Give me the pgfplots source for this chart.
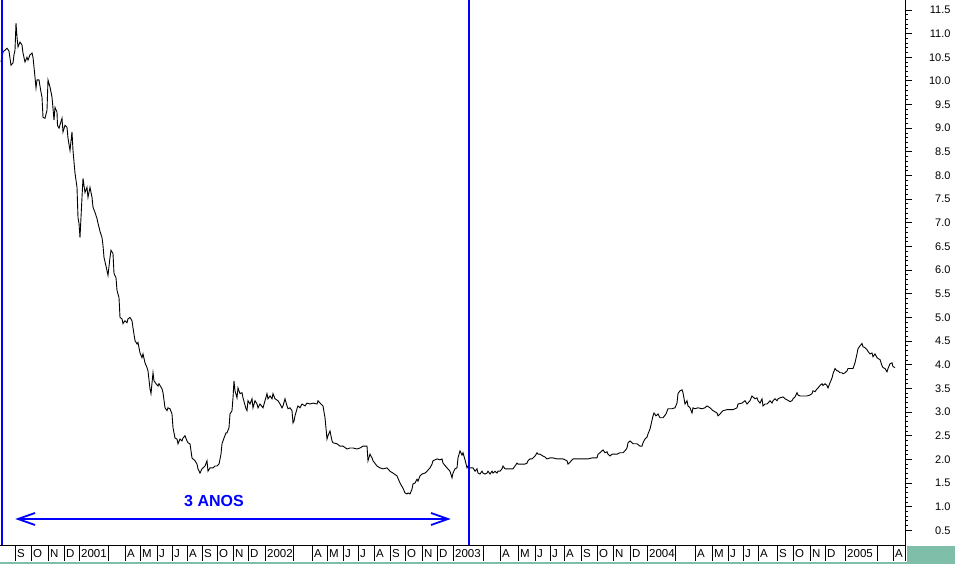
\documentclass[border=0pt]{standalone}
\usepackage{pgfplots}
\pgfplotsset{compat=1.18}
\usepackage{fontspec}
\setmainfont{Liberation Sans}
\definecolor{tealbox}{RGB}{127,191,169}
\begin{document}
\begin{tikzpicture}
\path[use as bounding box] (0pt,0pt) rectangle (955pt,564pt);
\fill[tealbox] (907pt,0pt) rectangle (955pt,18pt);
\fill[tealbox] (0pt,0pt) rectangle (955pt,2pt);
\begin{axis}[
  at={(0pt,19pt)}, anchor=south west,
  width=905pt, height=545pt, scale only axis,
  xmin=0, xmax=905, ymin=0.19, ymax=11.71,
  clip=false,
  axis x line*=bottom, axis y line*=right,
  axis line style={-, black, line width=0.9pt},
  ytick={0.5,1.0,1.5,2.0,2.5,3.0,3.5,4.0,4.5,5.0,5.5,6.0,6.5,7.0,7.5,8.0,8.5,9.0,9.5,10.0,10.5,11.0,11.5},
  minor y tick num=4,
  tick align=outside,
  major tick length=7pt, minor tick length=3pt,
  tick style={black, line width=0.8pt},
  yticklabel style={/pgf/number format/fixed, /pgf/number format/fixed zerofill,
    /pgf/number format/precision=1, /pgf/number format/assume math mode=true,
    font=\fontsize{11}{13}\selectfont, anchor=east, xshift=42pt},
  xtick={15,31,48,64,79,125,140,157,172,187,202,217,233,248,265,312,327,343,358,374,390,405,422,437,453,500,518,535,550,564,581,597,613,630,647,695,712,728,743,758,777,793,810,825,845,893},
  xticklabels={S,O,N,D,2001,A,M,J,J,A,S,O,N,D,2002,A,M,J,J,A,S,O,N,D,2003,A,M,J,J,A,S,O,N,D,2004,A,M,J,J,A,S,O,N,D,2005,A},
  xticklabel style={font=\fontsize{11.5}{13}\selectfont, anchor=west, yshift=-2pt, xshift=0.5pt, inner sep=1.5pt},
]
\addplot[black, line width=0.9pt, sharp plot, no markers] coordinates {
(1,10.40)(3,10.61)(7,10.69)(9,10.63)(11,10.33)(13,10.38)(14,10.55)(15,10.65)(16,11.22)(17,10.93)
(18,10.72)(20,10.82)(22,10.76)(23,10.59)(25,10.40)(27,10.50)(28,10.44)(30,10.55)(32,10.59)(33,10.50)
(35,10.08)(36,9.85)(37,10.02)(39,10.02)(41,9.76)(42,9.66)(43,9.23)(45,9.21)(47,9.38)(48,10.02)
(50,9.87)(52,9.66)(53,9.42)(54,9.17)(55,9.44)(57,9.34)(57.5,9.06)(59,9.00)(62,9.21)(63,8.92)
(65,9.06)(67,9.02)(68,8.79)(70,8.53)(72,8.92)(73,8.53)(75,8.05)(77,7.75)(78,7.11)(79,6.99)
(80,6.69)(82,7.54)(83,7.94)(85,7.64)(87,7.75)(88,7.54)(90,7.75)(92,7.54)(93,7.33)(95,7.22)
(97,7.09)(98,6.99)(100,6.82)(102,6.69)(103,6.52)(104,6.27)(107,5.99)(108,5.89)(110,6.27)(111,6.42)
(113,6.35)(114,5.93)(116,5.84)(117,5.57)(119,5.42)(120,5.00)(122,4.97)(123,4.87)(125,4.93)(127,4.89)
(128,4.97)(130,5.00)(132,4.93)(133,4.78)(135,4.51)(137,4.44)(138,4.47)(140,4.25)(142,4.15)(143,4.23)
(145,4.04)(147,3.94)(148,3.87)(150,3.49)(151,3.39)(153,3.83)(154,3.66)(156,3.60)(158,3.55)(159,3.60)
(162,3.49)(163,3.41)(165,3.09)(167,3.03)(168,3.09)(170,3.07)(172,2.96)(173,2.67)(175,2.45)(177,2.43)
(178,2.33)(180,2.43)(182,2.39)(183,2.45)(185,2.50)(187,2.39)(188,2.35)(190,2.33)(192,2.03)(193,2.01)
(195,1.97)(197,1.90)(198,1.80)(200,1.71)(202,1.80)(203,1.82)(205,1.86)(207,1.97)(208,1.75)(210,1.82)
(213,1.82)(215,1.86)(217,1.86)(219,1.90)(221,2.11)(222,2.33)(224,2.45)(226,2.56)(227,2.56)(229,2.67)
(230,2.96)(232,3.03)(233,3.30)(234,3.66)(235,3.45)(237,3.30)(238,3.51)(240,3.39)(242,3.41)(243,3.30)
(246,3.07)(247,3.03)(248,3.24)(250,3.17)(252,3.28)(253,3.09)(255,3.24)(257,3.17)(258,3.09)(260,3.17)
(263,3.09)(265,3.24)(267,3.39)(268,3.28)(270,3.34)(272,3.28)(273,3.39)(275,3.28)(278,3.24)(280,3.17)
(282,3.09)(283,3.13)(285,3.28)(287,3.13)(288,3.07)(290,3.09)(292,3.03)(293,2.77)(294,2.81)(295,2.92)
(297,3.07)(298,3.13)(300,3.09)(302,3.17)(305,3.13)(307,3.19)(310,3.17)(313,3.19)(317,3.17)(318,3.24)
(320,3.19)(323,3.13)(325,2.88)(327,2.43)(328,2.50)(330,2.60)(332,2.39)(333,2.35)(337,2.33)(340,2.28)
(343,2.28)(347,2.22)(350,2.24)(353,2.24)(357,2.22)(360,2.24)(363,2.28)(367,2.28)(368,1.97)(370,2.11)
(372,2.03)(373,1.97)(377,1.86)(380,1.82)(383,1.80)(387,1.82)(390,1.75)(393,1.71)(397,1.65)(400,1.50)
(403,1.39)(405,1.29)(407,1.27)(408,1.29)(410,1.27)(412,1.37)(413,1.48)(415,1.50)(417,1.58)(418,1.54)
(420,1.65)(422,1.69)(425,1.71)(427,1.75)(430,1.82)(432,1.90)(433,1.97)(437,2.01)(440,1.99)(442,2.01)
(443,1.92)(447,1.82)(450,1.75)(452,1.61)(453,1.71)(455,1.80)(457,1.82)(458,2.03)(460,2.18)(462,2.09)
(463,2.14)(465,1.99)(467,1.82)(468,1.86)(470,1.82)(473,1.82)(475,1.75)(477,1.80)(478,1.71)(480,1.69)
(482,1.75)(483,1.71)(485,1.69)(487,1.71)(488,1.75)(490,1.69)(492,1.75)(493,1.71)(495,1.75)(497,1.71)
(498,1.75)(500,1.75)(502,1.80)(503,1.86)(505,1.80)(510,1.80)(513,1.80)(515,1.86)(517,1.92)(518,1.90)
(522,1.90)(525,1.90)(527,1.92)(528,1.97)(530,2.01)(532,2.01)(533,2.03)(535,2.07)(537,2.14)(538,2.11)
(540,2.11)(543,2.07)(545,2.05)(547,2.01)(550,2.03)(553,2.03)(557,2.01)(560,2.01)(563,2.01)(567,1.97)
(568,1.90)(570,1.94)(573,2.01)(577,2.01)(580,2.01)(583,2.01)(588,2.01)(592,2.03)(595,2.03)(597,2.03)
(598,2.11)(600,2.14)(602,2.18)(603,2.20)(605,2.14)(607,2.16)(608,2.11)(610,2.07)(612,2.11)(615,2.11)
(617,2.11)(620,2.14)(623,2.14)(625,2.18)(627,2.24)(628,2.35)(630,2.39)(632,2.35)(633,2.33)(637,2.33)
(640,2.28)(642,2.28)(643,2.35)(645,2.43)(647,2.47)(648,2.54)(650,2.64)(653,2.92)(654,2.98)(656,2.92)
(658,2.96)(660,2.88)(663,2.88)(666,2.96)(668,3.07)(672,3.07)(675,3.09)(677,3.19)(678,3.39)(680,3.45)
(682,3.47)(683,3.41)(685,3.17)(687,3.24)(688,3.13)(690,3.09)(692,2.98)(693,3.09)(695,3.07)(698,3.09)
(702,3.07)(705,3.09)(707,3.13)(710,3.09)(713,3.03)(717,2.98)(718,2.92)(720,2.96)(723,3.03)(727,3.05)
(730,3.05)(733,3.05)(737,3.09)(738,3.17)(742,3.19)(745,3.24)(747,3.17)(750,3.24)(752,3.34)(753,3.32)
(755,3.28)(757,3.30)(758,3.24)(760,3.19)(762,3.28)(763,3.13)(765,3.17)(767,3.17)(768,3.19)(770,3.24)
(772,3.19)(773,3.24)(775,3.28)(777,3.24)(778,3.28)(780,3.30)(783,3.32)(785,3.28)(787,3.26)(790,3.22)
(792,3.24)(793,3.28)(795,3.32)(797,3.41)(798,3.36)(800,3.34)(803,3.34)(807,3.34)(810,3.36)(812,3.39)
(813,3.45)(815,3.43)(817,3.49)(818,3.51)(820,3.56)(822,3.60)(823,3.56)(825,3.60)(827,3.56)(828,3.51)
(830,3.62)(832,3.72)(833,3.81)(835,3.92)(837,3.87)(838,3.87)(840,3.83)(842,3.83)(843,3.81)(845,3.83)
(847,3.87)(848,3.92)(853,3.92)(855,4.04)(857,4.23)(858,4.34)(860,4.40)(862,4.45)(863,4.38)(865,4.36)
(867,4.32)(868,4.28)(870,4.23)(872,4.25)(873,4.17)(875,4.23)(877,4.15)(878,4.13)(880,4.11)(882,3.98)
(883,3.94)(885,3.92)(887,3.85)(888,3.92)(890,4.02)(892,4.04)(893,3.96)(895,3.94)
};
\end{axis}
% month separators
\foreach \p in {15,31,48,64,79,108,125,140,157,172,187,202,217,233,248,265,293,312,327,343,358,374,390,405,422,437,453,483,500,518,535,550,564,581,597,613,630,647,675,695,712,728,743,758,777,793,810,825,845,877,893,905}
  \draw[black, line width=0.8pt] (\p pt,19pt) -- (\p pt,3pt);
% blue markers
\draw[blue, line width=2pt] (2pt,19pt) -- (2pt,564pt);
\draw[blue, line width=2pt] (469pt,19pt) -- (469pt,564pt);
\draw[blue, line width=2pt] (19pt,45pt) -- (447pt,45pt);
\draw[blue, line width=1.8pt] (35pt,51pt) -- (18pt,45pt) -- (35pt,39pt);
\draw[blue, line width=1.8pt] (431pt,51pt) -- (448pt,45pt) -- (431pt,39pt);
\node[blue, font=\fontsize{16}{18}\selectfont\bfseries] at (214pt,63pt) {3 ANOS};
\end{tikzpicture}
\end{document}
